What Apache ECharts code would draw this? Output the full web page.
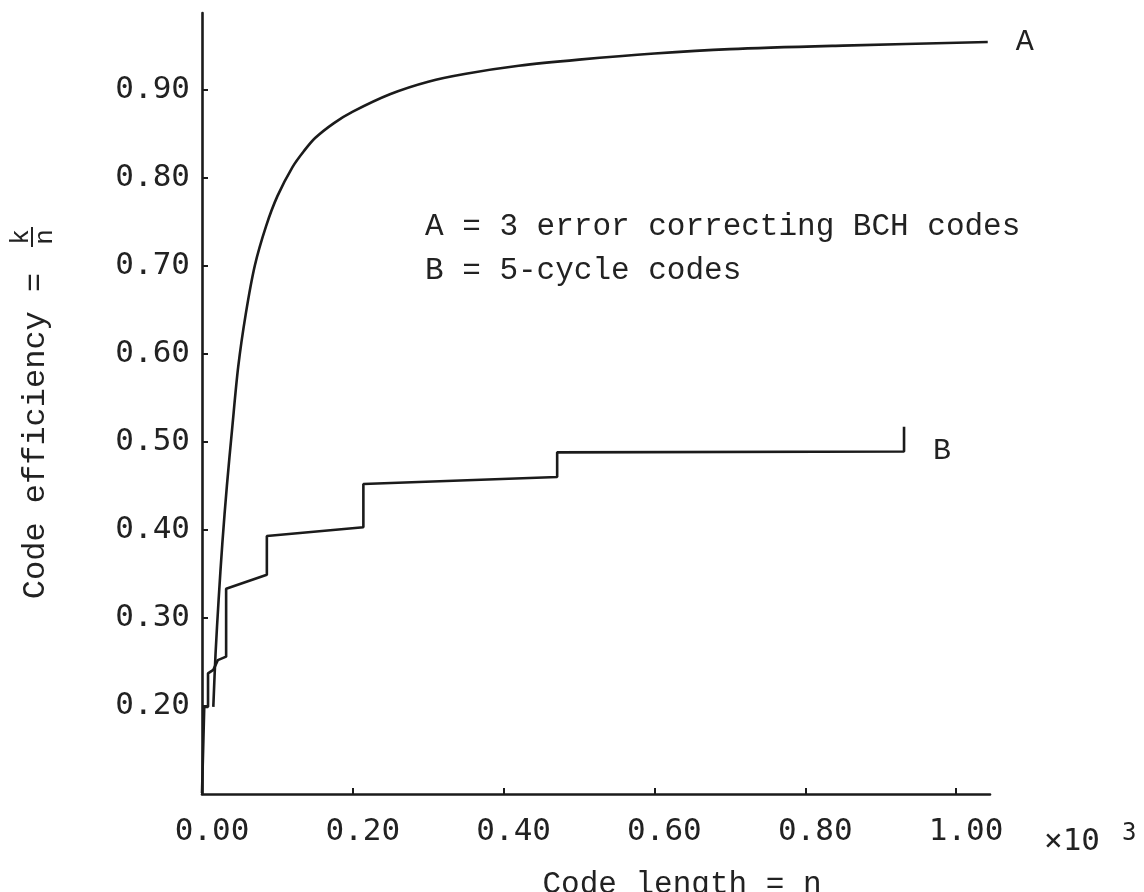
<!DOCTYPE html>
<html>
<head>
<meta charset="utf-8">
<script src="https://cdn.jsdelivr.net/npm/echarts@6/dist/echarts.min.js"></script>
<style>
  html, body { margin: 0; padding: 0; background: #ffffff; }
  #chart { width: 1144px; height: 892px; }
</style>
</head>
<body>
<div id="chart"></div>
<script>
// ---- Data ----
// Curve A: 3 error correcting BCH codes (code length n in units of 10^3, efficiency k/n)
const aLength = [0.015, 0.018, 0.022, 0.027, 0.033, 0.040, 0.048, 0.058, 0.070, 0.085, 0.100, 0.120, 0.135, 0.150, 0.175, 0.200, 0.250, 0.300, 0.350, 0.420, 0.500, 0.600, 0.700, 0.850, 1.042];
const aEfficiency = [0.199, 0.260, 0.320, 0.385, 0.450, 0.515, 0.585, 0.645, 0.700, 0.745, 0.779, 0.812, 0.830, 0.845, 0.862, 0.875, 0.895, 0.909, 0.918, 0.927, 0.934, 0.941, 0.946, 0.950, 0.954];

// Curve B: 5-cycle codes (step curve)
const bLength = [0.000, 0.003, 0.008, 0.008, 0.015, 0.021, 0.032, 0.032, 0.086, 0.086, 0.214, 0.214, 0.471, 0.471, 0.931, 0.931];
const bEfficiency = [0.101, 0.199, 0.199, 0.237, 0.241, 0.252, 0.256, 0.333, 0.349, 0.393, 0.403, 0.452, 0.460, 0.488, 0.489, 0.517];

// Tick labels
const xTickValues = [0.00, 0.20, 0.40, 0.60, 0.80, 1.00];
const yTickValues = [0.20, 0.30, 0.40, 0.50, 0.60, 0.70, 0.80, 0.90];

// Texts
const legendLines = ['A = 3 error correcting BCH codes', 'B = 5-cycle codes'];
const xAxisTitle = 'Code length = n';
const yAxisTitle = 'Code efficiency =';

// ---- Chart ----
const chart = echarts.init(document.getElementById('chart'), null, { renderer: 'canvas' });

const zip = (xs, ys) => xs.map((x, i) => [x, ys[i]]);
const ink = '#1b1b1b';
const mono = '"Liberation Mono", "DejaVu Sans Mono", monospace';
const tickFont = '"DejaVu Sans Mono", "Liberation Mono", monospace';

const option = {
  backgroundColor: '#ffffff',
  animation: false,
  grid: { left: 202, right: 154, top: 13, bottom: 98 },
  xAxis: {
    type: 'value',
    min: 0,
    max: 1.045,
    interval: 0.2,
    axisLine: { show: true, onZero: false, lineStyle: { color: ink, width: 2.6 } },
    axisTick: { show: true, inside: true, length: 6, customValues: xTickValues, lineStyle: { color: ink, width: 2 } },
    axisLabel: {
      show: true, customValues: xTickValues, margin: 22, padding: [0, 0, 0, 20],
      formatter: v => v.toFixed(2),
      color: '#222', fontFamily: tickFont, fontSize: 31
    },
    splitLine: { show: false }
  },
  yAxis: {
    type: 'value',
    min: 0.1,
    max: 0.987,
    interval: 0.1,
    axisLine: { show: true, onZero: false, lineStyle: { color: ink, width: 2.6 } },
    axisTick: { show: true, inside: true, length: 6, customValues: yTickValues, lineStyle: { color: ink, width: 2 } },
    axisLabel: {
      show: true, customValues: yTickValues, margin: 12,
      formatter: v => v.toFixed(2),
      color: '#222', fontFamily: tickFont, fontSize: 31
    },
    splitLine: { show: false }
  },
  series: [
    {
      name: 'A',
      type: 'line',
      data: zip(aLength, aEfficiency),
      showSymbol: false,
      symbol: 'none',
      smooth: 0.3,
      clip: false,
      lineStyle: { color: ink, width: 2.6 },
      endLabel: { show: true, formatter: 'A', distance: 28, color: '#222', fontFamily: mono, fontSize: 30 }
    },
    {
      name: 'B',
      type: 'line',
      data: zip(bLength, bEfficiency),
      showSymbol: false,
      symbol: 'none',
      clip: false,
      lineStyle: { color: ink, width: 2.6 },
      endLabel: { show: true, formatter: 'B', distance: 29, offset: [0, 24], color: '#222', fontFamily: mono, fontSize: 30 }
    }
  ],
  graphic: [
    // legend text block
    { type: 'text', left: 425, top: 211, style: { text: legendLines[0], fill: '#222', font: '31px ' + mono } },
    { type: 'text', left: 425, top: 255, style: { text: legendLines[1], fill: '#222', font: '31px ' + mono } },
    // x axis title
    { type: 'text', x: 682, y: 885, style: { text: xAxisTitle, fill: '#222', font: '31px ' + mono, align: 'center', verticalAlign: 'middle' } },
    // x10^3 multiplier
    { type: 'text', x: 1044, y: 842, style: { text: '×10', fill: '#222', font: '31px ' + tickFont, align: 'left', verticalAlign: 'middle' } },
    { type: 'text', x: 1122, y: 834, style: { text: '3', fill: '#222', font: '24px ' + tickFont, align: 'left', verticalAlign: 'middle' } },
    // y axis title (rotated)
    { type: 'text', x: 36, y: 436, rotation: Math.PI / 2, style: { text: yAxisTitle, fill: '#222', font: '32px ' + mono, align: 'center', verticalAlign: 'middle' } },
    { type: 'text', x: 21, y: 237, rotation: Math.PI / 2, style: { text: 'k', fill: '#222', font: '26px ' + mono, align: 'center', verticalAlign: 'middle' } },
    { type: 'line', shape: { x1: 32, y1: 227, x2: 32, y2: 247 }, style: { stroke: '#222', lineWidth: 2 } },
    { type: 'text', x: 45, y: 237, rotation: Math.PI / 2, style: { text: 'n', fill: '#222', font: '26px ' + mono, align: 'center', verticalAlign: 'middle' } }
  ]
};

chart.setOption(option);
</script>
</body>
</html>
